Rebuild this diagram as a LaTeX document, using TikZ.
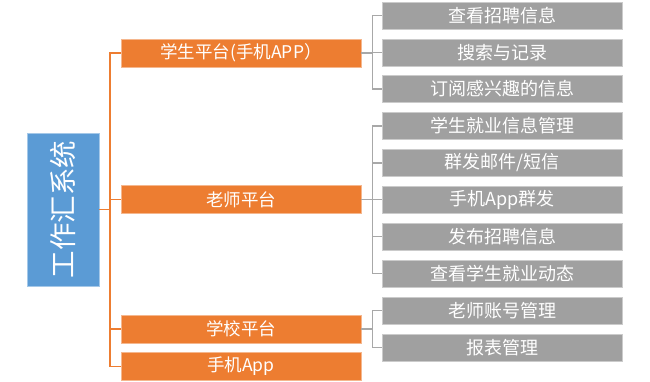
\documentclass[tikz,border=0pt]{standalone}
\usepackage{fontspec}
\newfontfamily\cjk{Noto Sans CJK SC}
\usetikzlibrary{positioning, calc}
\definecolor{corange}{HTML}{ED7D31}
\definecolor{cblue}{HTML}{5B9BD5}
\definecolor{cgrey}{HTML}{A0A0A0}
\definecolor{cline}{HTML}{A8A8A8}
\tikzset{
  every picture/.style={x=1pt, y=-1pt},
  sysbox/.style={fill=cblue, draw=cblue!55!white, line width=0.6pt, text=white, inner sep=0pt,
    minimum width=153pt, minimum height=72pt, font=\cjk\fontsize{27.5}{29}\selectfont},
  platform/.style={fill=corange, draw=corange!55!white, line width=0.6pt, text=white, inner sep=0pt,
    minimum width=240pt, minimum height=28pt, font=\cjk\fontsize{17.5}{19}\selectfont},
  subbox/.style={fill=cgrey, draw=cgrey!55!white, line width=0.6pt, text=white, inner sep=0pt,
    minimum width=240pt, minimum height=27pt, font=\cjk\fontsize{18}{20}\selectfont},
  trunk/.style={draw=corange, line width=1.8pt},
  twig/.style={draw=cline, line width=1.4pt},
}
\begin{document}
\begin{tikzpicture}
  \useasboundingbox (0,0) rectangle (650,381);
  % root
  \node[sysbox, rotate=90] (sys) at (63,209.5) {工作汇系统};
  % platforms
  \node[platform] (stu) at (241,53) {学生平台(手机APP）};
  \node[platform] (tea) at (241,199.5) {老师平台};
  \node[platform] (sch) at (241,329) {学校平台};
  \node[platform] (app) at (241,366.5) {手机App};
  % student functions
  \node[subbox] (a1) at (502,15.5) {查看招聘信息};
  \node[subbox] (a2) at (502,52.5) {搜索与记录};
  \node[subbox] (a3) at (502,89) {订阅感兴趣的信息};
  % teacher functions
  \node[subbox] (t1) at (502,126) {学生就业信息管理};
  \node[subbox] (t2) at (502,163) {群发邮件/短信};
  \node[subbox] (t3) at (502,199.5) {手机App群发};
  \node[subbox] (t4) at (502,236.5) {发布招聘信息};
  \node[subbox] (t5) at (502,273.5) {查看学生就业动态};
  % school functions
  \node[subbox] (s1) at (502,310.5) {老师账号管理};
  \node[subbox] (s2) at (502,347.5) {报表管理};

  % orange tree
  \draw[trunk] (sys.south) -- ++(11,0) coordinate (hub);
  \draw[trunk] (stu.west) -| (hub) |- (app.west);
  \draw[trunk] (tea.west) -- (tea.west -| hub);
  \draw[trunk] (sch.west) -- (sch.west -| hub);

  % grey brackets
  \coordinate (b1) at ([xshift=11pt]stu.east);
  \coordinate (b2) at ([xshift=11pt]tea.east);
  \coordinate (b3) at ([xshift=11pt]sch.east);
  \draw[twig] (stu.east) -- (b1);
  \draw[twig] (a1.west) -| (b1) |- (a3.west);
  \draw[twig] (a2.west) -- (a2.west -| b1);
  \draw[twig] (tea.east) -- (b2);
  \draw[twig] (t1.west) -| (b2) |- (t5.west);
  \draw[twig] (t2.west) -- (t2.west -| b2);
  \draw[twig] (t3.west) -- (t3.west -| b2);
  \draw[twig] (t4.west) -- (t4.west -| b2);
  \draw[twig] (sch.east) -- (b3);
  \draw[twig] (s1.west) -| (b3) |- (s2.west);
\end{tikzpicture}
\end{document}
